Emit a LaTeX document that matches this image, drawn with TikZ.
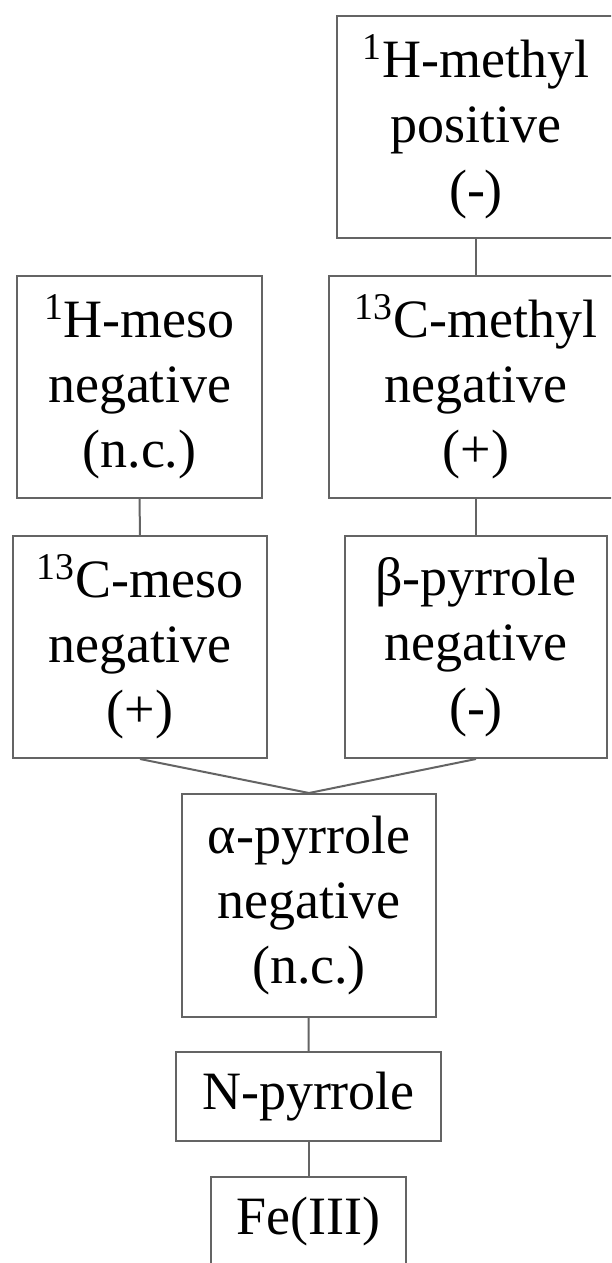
\documentclass[tikz,border=0pt]{standalone}
\usepackage{fontspec}
\setmainfont{Liberation Serif}
\usetikzlibrary{positioning}
\definecolor{lvlgray}{RGB}{100,100,100}
\tikzset{
    lvl/.style={
        draw=lvlgray,line width=1pt,align=center,inner sep=0pt,
        minimum width=#1,minimum height=111pt,
        font=\fontsize{27}{32.5}\selectfont
    },
    lvl/.default=127pt,
    slim/.style={
        lvl=#1,minimum height=44.5pt
    },
    link/.style={
        draw=lvlgray,line width=1pt
    }
}

\begin{document}
\begin{tikzpicture}[x=0.5pt,y=-0.5pt]

\useasboundingbox (0,0) rectangle (611,1263);
\clip (0,0) rectangle (611,1263);

% upper two rows
\node[lvl=139pt](hmethyl) at (476,127)
{\textsuperscript{1}H-methyl\\positive\\(-)};

\node[lvl=122.5pt](hmeso) at (139.5,387)
{\textsuperscript{1}H-meso\\negative\\(n.c.)};

\node[lvl=147pt](cmethyl) at (476,387)
{\textsuperscript{13}C-methyl\\negative\\(+)};

\node[lvl=127pt](cmeso) at (140,647)
{\textsuperscript{13}C-meso\\negative\\(+)};

\node[lvl=131pt](bpyr) at (476,647)
{β-pyrrole\\negative\\(-)};

% central column
\node[lvl=127pt,minimum height=111.5pt](apyr) at (309,905.5)
{α-pyrrole\\negative\\(n.c.)};

\node[slim=132.5pt](npyr) at (308.5,1096.5) {N-pyrrole};

\node[slim=97.5pt](fe) at (308.5,1221.5) {Fe(III)};

\draw[link](hmethyl)--(cmethyl);
\draw[link](hmeso)--(cmeso);
\draw[link](cmethyl)--(bpyr);
\draw[link](cmeso.south)--(apyr.north);
\draw[link](bpyr.south)--(apyr.north);
\draw[link](apyr)--(npyr);
\draw[link](npyr)--(fe);

\end{tikzpicture}
\end{document}
